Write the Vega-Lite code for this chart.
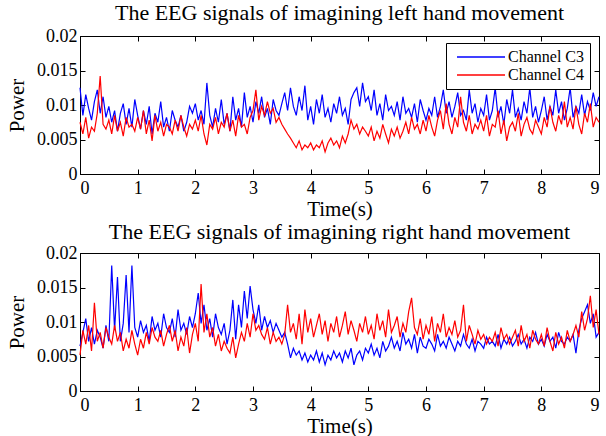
{
"$schema": "https://vega.github.io/schema/vega-lite/v6.json",
"background": "white",
"padding": {"left": 6, "top": 1, "right": 5, "bottom": 0},
"config": {
  "view": {"stroke": "black", "strokeWidth": 1},
  "style": {"guide-label": {"font": "Liberation Serif", "fill": "black"}, "guide-title": {"font": "Times New Roman", "fill": "black"}},
  "axis": {"domainColor": "black", "tickColor": "black", "labelColor": "black", "titleColor": "black", "grid": false, "labelFont": "Liberation Serif", "titleFont": "Times New Roman", "labelFontSize": 18, "titleFontSize": 21, "titleFontWeight": "normal", "tickSize": -5},
  "title": {"font": "Times New Roman", "fontSize": 22, "fontWeight": "normal", "color": "black"},
  "legend": {"strokeColor": "black", "fillColor": "white", "padding": 6, "labelFont": "Liberation Serif", "labelFontSize": 16, "labelColor": "black", "symbolType": "M-0.5,0H7.5", "symbolSize": 144, "symbolStrokeWidth": 1.5, "labelOffset": 40, "rowPadding": 2, "cornerRadius": 0},
  "concat": {"spacing": 0}
},
"datasets": {
"left": [
{"t":0,"C3":0.0125,"C4":0.0075},{"t":0.05,"C3":0.0085,"C4":0.0058},{"t":0.1,"C3":0.0115,"C4":0.0082},{"t":0.15,"C3":0.0095,"C4":0.0052},{"t":0.2,"C3":0.0078,"C4":0.0068},{"t":0.25,"C3":0.0105,"C4":0.0062},{"t":0.3,"C3":0.0122,"C4":0.0088},{"t":0.35,"C3":0.0088,"C4":0.0142},{"t":0.4,"C3":0.0112,"C4":0.0072},{"t":0.45,"C3":0.0082,"C4":0.0065},
{"t":0.5,"C3":0.0098,"C4":0.0078},{"t":0.55,"C3":0.0075,"C4":0.0058},{"t":0.6,"C3":0.0092,"C4":0.0085},{"t":0.65,"C3":0.0062,"C4":0.0062},{"t":0.7,"C3":0.0088,"C4":0.0075},{"t":0.75,"C3":0.0102,"C4":0.0055},{"t":0.8,"C3":0.0072,"C4":0.0082},{"t":0.85,"C3":0.0095,"C4":0.0068},{"t":0.9,"C3":0.0068,"C4":0.0072},{"t":0.95,"C3":0.0108,"C4":0.0062},
{"t":1,"C3":0.0085,"C4":0.0082},{"t":1.05,"C3":0.0065,"C4":0.0065},{"t":1.1,"C3":0.0092,"C4":0.0092},{"t":1.15,"C3":0.0072,"C4":0.0058},{"t":1.2,"C3":0.0098,"C4":0.0078},{"t":1.25,"C3":0.0058,"C4":0.0048},{"t":1.3,"C3":0.0088,"C4":0.0085},{"t":1.35,"C3":0.0075,"C4":0.0062},{"t":1.4,"C3":0.0105,"C4":0.0075},{"t":1.45,"C3":0.0068,"C4":0.0055},
{"t":1.5,"C3":0.0082,"C4":0.0072},{"t":1.55,"C3":0.0062,"C4":0.0068},{"t":1.6,"C3":0.0092,"C4":0.0058},{"t":1.65,"C3":0.0078,"C4":0.0078},{"t":1.7,"C3":0.0068,"C4":0.0062},{"t":1.75,"C3":0.0085,"C4":0.0085},{"t":1.8,"C3":0.0062,"C4":0.0068},{"t":1.85,"C3":0.0075,"C4":0.0055},{"t":1.9,"C3":0.0098,"C4":0.0072},{"t":1.95,"C3":0.0088,"C4":0.0065},
{"t":2,"C3":0.0102,"C4":0.0078},{"t":2.05,"C3":0.0078,"C4":0.0062},{"t":2.1,"C3":0.0092,"C4":0.0085},{"t":2.15,"C3":0.0072,"C4":0.0058},{"t":2.2,"C3":0.0132,"C4":0.0042},{"t":2.25,"C3":0.0085,"C4":0.0072},{"t":2.3,"C3":0.0068,"C4":0.0065},{"t":2.35,"C3":0.0095,"C4":0.0082},{"t":2.4,"C3":0.0075,"C4":0.0058},{"t":2.45,"C3":0.0108,"C4":0.0075},
{"t":2.5,"C3":0.0072,"C4":0.0068},{"t":2.55,"C3":0.0088,"C4":0.0088},{"t":2.6,"C3":0.0062,"C4":0.0062},{"t":2.65,"C3":0.0112,"C4":0.0078},{"t":2.7,"C3":0.0078,"C4":0.0055},{"t":2.75,"C3":0.0095,"C4":0.0085},{"t":2.8,"C3":0.0068,"C4":0.0068},{"t":2.85,"C3":0.0118,"C4":0.0072},{"t":2.9,"C3":0.0082,"C4":0.0058},{"t":2.95,"C3":0.0098,"C4":0.0082},
{"t":3,"C3":0.0075,"C4":0.0092},{"t":3.05,"C3":0.0105,"C4":0.0122},{"t":3.1,"C3":0.0088,"C4":0.0078},{"t":3.15,"C3":0.0112,"C4":0.0098},{"t":3.2,"C3":0.0082,"C4":0.0085},{"t":3.25,"C3":0.0095,"C4":0.0105},{"t":3.3,"C3":0.0072,"C4":0.0088},{"t":3.35,"C3":0.0108,"C4":0.0095},{"t":3.4,"C3":0.0092,"C4":0.0075},{"t":3.45,"C3":0.0085,"C4":0.0082},
{"t":3.5,"C3":0.0102,"C4":0.0072},{"t":3.55,"C3":0.0118,"C4":0.0065},{"t":3.6,"C3":0.0092,"C4":0.0058},{"t":3.65,"C3":0.0125,"C4":0.0052},{"t":3.7,"C3":0.0098,"C4":0.0045},{"t":3.75,"C3":0.0085,"C4":0.0038},{"t":3.8,"C3":0.0112,"C4":0.0048},{"t":3.85,"C3":0.0092,"C4":0.0035},{"t":3.9,"C3":0.0128,"C4":0.0042},{"t":3.95,"C3":0.0078,"C4":0.0038},
{"t":4,"C3":0.0098,"C4":0.0045},{"t":4.05,"C3":0.0072,"C4":0.0035},{"t":4.1,"C3":0.0108,"C4":0.0042},{"t":4.15,"C3":0.0088,"C4":0.0038},{"t":4.2,"C3":0.0115,"C4":0.0048},{"t":4.25,"C3":0.0082,"C4":0.0032},{"t":4.3,"C3":0.0095,"C4":0.0045},{"t":4.35,"C3":0.0075,"C4":0.0052},{"t":4.4,"C3":0.0102,"C4":0.0042},{"t":4.45,"C3":0.0088,"C4":0.0048},
{"t":4.5,"C3":0.0112,"C4":0.0038},{"t":4.55,"C3":0.0085,"C4":0.0055},{"t":4.6,"C3":0.0095,"C4":0.0045},{"t":4.65,"C3":0.0072,"C4":0.0058},{"t":4.7,"C3":0.0108,"C4":0.0078},{"t":4.75,"C3":0.0118,"C4":0.0065},{"t":4.8,"C3":0.0125,"C4":0.0072},{"t":4.85,"C3":0.0098,"C4":0.0058},{"t":4.9,"C3":0.0132,"C4":0.0068},{"t":4.95,"C3":0.0105,"C4":0.0062},
{"t":5,"C3":0.0112,"C4":0.0055},{"t":5.05,"C3":0.0092,"C4":0.0068},{"t":5.1,"C3":0.0122,"C4":0.0048},{"t":5.15,"C3":0.0085,"C4":0.0062},{"t":5.2,"C3":0.0102,"C4":0.0052},{"t":5.25,"C3":0.0078,"C4":0.0072},{"t":5.3,"C3":0.0115,"C4":0.0058},{"t":5.35,"C3":0.0092,"C4":0.0045},{"t":5.4,"C3":0.0098,"C4":0.0065},{"t":5.45,"C3":0.0085,"C4":0.0055},
{"t":5.5,"C3":0.0105,"C4":0.0068},{"t":5.55,"C3":0.0078,"C4":0.0052},{"t":5.6,"C3":0.0112,"C4":0.0062},{"t":5.65,"C3":0.0088,"C4":0.0075},{"t":5.7,"C3":0.0095,"C4":0.0058},{"t":5.75,"C3":0.0082,"C4":0.0082},{"t":5.8,"C3":0.0102,"C4":0.0065},{"t":5.85,"C3":0.0075,"C4":0.0072},{"t":5.9,"C3":0.0108,"C4":0.0058},{"t":5.95,"C3":0.0092,"C4":0.0078},
{"t":6,"C3":0.0078,"C4":0.0062},{"t":6.05,"C3":0.0095,"C4":0.0085},{"t":6.1,"C3":0.0085,"C4":0.0068},{"t":6.15,"C3":0.0112,"C4":0.0055},{"t":6.2,"C3":0.0082,"C4":0.0078},{"t":6.25,"C3":0.0098,"C4":0.0092},{"t":6.3,"C3":0.0122,"C4":0.0065},{"t":6.35,"C3":0.0088,"C4":0.0102},{"t":6.4,"C3":0.0105,"C4":0.0072},{"t":6.45,"C3":0.0082,"C4":0.0058},
{"t":6.5,"C3":0.0098,"C4":0.0082},{"t":6.55,"C3":0.0118,"C4":0.0068},{"t":6.6,"C3":0.0085,"C4":0.0112},{"t":6.65,"C3":0.0092,"C4":0.0075},{"t":6.7,"C3":0.0078,"C4":0.0062},{"t":6.75,"C3":0.0122,"C4":0.0085},{"t":6.8,"C3":0.0088,"C4":0.0058},{"t":6.85,"C3":0.0102,"C4":0.0072},{"t":6.9,"C3":0.0075,"C4":0.0065},{"t":6.95,"C3":0.0095,"C4":0.0078},
{"t":7,"C3":0.0085,"C4":0.0062},{"t":7.05,"C3":0.0115,"C4":0.0085},{"t":7.1,"C3":0.0078,"C4":0.0055},{"t":7.15,"C3":0.0092,"C4":0.0072},{"t":7.2,"C3":0.0125,"C4":0.0068},{"t":7.25,"C3":0.0082,"C4":0.0092},{"t":7.3,"C3":0.0098,"C4":0.0058},{"t":7.35,"C3":0.0072,"C4":0.0078},{"t":7.4,"C3":0.0108,"C4":0.0048},{"t":7.45,"C3":0.0088,"C4":0.0068},
{"t":7.5,"C3":0.0122,"C4":0.0075},{"t":7.55,"C3":0.0082,"C4":0.0062},{"t":7.6,"C3":0.0095,"C4":0.0088},{"t":7.65,"C3":0.0078,"C4":0.0055},{"t":7.7,"C3":0.0105,"C4":0.0072},{"t":7.75,"C3":0.0088,"C4":0.0082},{"t":7.8,"C3":0.0125,"C4":0.0065},{"t":7.85,"C3":0.0082,"C4":0.0058},{"t":7.9,"C3":0.0098,"C4":0.0078},{"t":7.95,"C3":0.0075,"C4":0.0068},
{"t":8,"C3":0.0092,"C4":0.0058},{"t":8.05,"C3":0.0112,"C4":0.0082},{"t":8.1,"C3":0.0078,"C4":0.0068},{"t":8.15,"C3":0.0098,"C4":0.0098},{"t":8.2,"C3":0.0085,"C4":0.0075},{"t":8.25,"C3":0.0122,"C4":0.0062},{"t":8.3,"C3":0.0088,"C4":0.0085},{"t":8.35,"C3":0.0105,"C4":0.0072},{"t":8.4,"C3":0.0078,"C4":0.0105},{"t":8.45,"C3":0.0095,"C4":0.0068},
{"t":8.5,"C3":0.0125,"C4":0.0082},{"t":8.55,"C3":0.0082,"C4":0.0065},{"t":8.6,"C3":0.0098,"C4":0.0098},{"t":8.65,"C3":0.0088,"C4":0.0072},{"t":8.7,"C3":0.0115,"C4":0.0058},{"t":8.75,"C3":0.0085,"C4":0.0088},{"t":8.8,"C3":0.0105,"C4":0.0075},{"t":8.85,"C3":0.0092,"C4":0.0102},{"t":8.9,"C3":0.0118,"C4":0.0068},{"t":8.95,"C3":0.0098,"C4":0.0082},
{"t":9,"C3":0.0112,"C4":0.0075}
],
"right": [
{"t":0,"C3":0.0065,"C4":0.0052},{"t":0.05,"C3":0.0085,"C4":0.0088},{"t":0.1,"C3":0.0105,"C4":0.0068},{"t":0.15,"C3":0.0072,"C4":0.0095},{"t":0.2,"C3":0.0092,"C4":0.0058},{"t":0.25,"C3":0.0068,"C4":0.0128},{"t":0.3,"C3":0.0088,"C4":0.0072},{"t":0.35,"C3":0.0078,"C4":0.0085},{"t":0.4,"C3":0.0062,"C4":0.0062},{"t":0.45,"C3":0.0095,"C4":0.0092},
{"t":0.5,"C3":0.0072,"C4":0.0078},{"t":0.55,"C3":0.0182,"C4":0.0068},{"t":0.6,"C3":0.0088,"C4":0.0095},{"t":0.65,"C3":0.0165,"C4":0.0072},{"t":0.7,"C3":0.0072,"C4":0.0085},{"t":0.75,"C3":0.0098,"C4":0.0058},{"t":0.8,"C3":0.0168,"C4":0.0075},{"t":0.85,"C3":0.0085,"C4":0.0062},{"t":0.9,"C3":0.0182,"C4":0.0088},{"t":0.95,"C3":0.0092,"C4":0.0068},
{"t":1,"C3":0.0078,"C4":0.0052},{"t":1.05,"C3":0.0102,"C4":0.0075},{"t":1.1,"C3":0.0085,"C4":0.0062},{"t":1.15,"C3":0.0095,"C4":0.0085},{"t":1.2,"C3":0.0072,"C4":0.0068},{"t":1.25,"C3":0.0108,"C4":0.0092},{"t":1.3,"C3":0.0088,"C4":0.0078},{"t":1.35,"C3":0.0098,"C4":0.0072},{"t":1.4,"C3":0.0078,"C4":0.0088},{"t":1.45,"C3":0.0112,"C4":0.0065},
{"t":1.5,"C3":0.0092,"C4":0.0082},{"t":1.55,"C3":0.0085,"C4":0.0095},{"t":1.6,"C3":0.0105,"C4":0.0072},{"t":1.65,"C3":0.0078,"C4":0.0088},{"t":1.7,"C3":0.0118,"C4":0.0058},{"t":1.75,"C3":0.0088,"C4":0.0078},{"t":1.8,"C3":0.0098,"C4":0.0065},{"t":1.85,"C3":0.0082,"C4":0.0092},{"t":1.9,"C3":0.0108,"C4":0.0055},{"t":1.95,"C3":0.0092,"C4":0.0082},
{"t":2,"C3":0.0112,"C4":0.0098},{"t":2.05,"C3":0.0142,"C4":0.0072},{"t":2.1,"C3":0.0098,"C4":0.0155},{"t":2.15,"C3":0.0125,"C4":0.0085},{"t":2.2,"C3":0.0088,"C4":0.0112},{"t":2.25,"C3":0.0105,"C4":0.0078},{"t":2.3,"C3":0.0078,"C4":0.0092},{"t":2.35,"C3":0.0112,"C4":0.0065},{"t":2.4,"C3":0.0092,"C4":0.0082},{"t":2.45,"C3":0.0082,"C4":0.0058},
{"t":2.5,"C3":0.0098,"C4":0.0072},{"t":2.55,"C3":0.0068,"C4":0.0062},{"t":2.6,"C3":0.0088,"C4":0.0055},{"t":2.65,"C3":0.0132,"C4":0.0078},{"t":2.7,"C3":0.0075,"C4":0.0048},{"t":2.75,"C3":0.0125,"C4":0.0068},{"t":2.8,"C3":0.0092,"C4":0.0085},{"t":2.85,"C3":0.0145,"C4":0.0072},{"t":2.9,"C3":0.0105,"C4":0.0098},{"t":2.95,"C3":0.0152,"C4":0.0078},
{"t":3,"C3":0.0118,"C4":0.0112},{"t":3.05,"C3":0.0098,"C4":0.0088},{"t":3.1,"C3":0.0125,"C4":0.0095},{"t":3.15,"C3":0.0088,"C4":0.0082},{"t":3.2,"C3":0.0108,"C4":0.0075},{"t":3.25,"C3":0.0092,"C4":0.0092},{"t":3.3,"C3":0.0102,"C4":0.0068},{"t":3.35,"C3":0.0085,"C4":0.0085},{"t":3.4,"C3":0.0098,"C4":0.0072},{"t":3.45,"C3":0.0088,"C4":0.0078},
{"t":3.5,"C3":0.0078,"C4":0.0068},{"t":3.55,"C3":0.0085,"C4":0.0082},{"t":3.6,"C3":0.0068,"C4":0.0125},{"t":3.65,"C3":0.0048,"C4":0.0085},{"t":3.7,"C3":0.0062,"C4":0.0098},{"t":3.75,"C3":0.0052,"C4":0.0075},{"t":3.8,"C3":0.0058,"C4":0.0112},{"t":3.85,"C3":0.0045,"C4":0.0068},{"t":3.9,"C3":0.0055,"C4":0.0118},{"t":3.95,"C3":0.0042,"C4":0.0085},
{"t":4,"C3":0.0052,"C4":0.0105},{"t":4.05,"C3":0.0045,"C4":0.0078},{"t":4.1,"C3":0.0058,"C4":0.0095},{"t":4.15,"C3":0.0042,"C4":0.0112},{"t":4.2,"C3":0.0055,"C4":0.0082},{"t":4.25,"C3":0.0038,"C4":0.0102},{"t":4.3,"C3":0.0052,"C4":0.0072},{"t":4.35,"C3":0.0045,"C4":0.0098},{"t":4.4,"C3":0.0058,"C4":0.0085},{"t":4.45,"C3":0.0048,"C4":0.0108},
{"t":4.5,"C3":0.0055,"C4":0.0078},{"t":4.55,"C3":0.0042,"C4":0.0095},{"t":4.6,"C3":0.0058,"C4":0.0115},{"t":4.65,"C3":0.0048,"C4":0.0082},{"t":4.7,"C3":0.0062,"C4":0.0102},{"t":4.75,"C3":0.0038,"C4":0.0088},{"t":4.8,"C3":0.0052,"C4":0.0072},{"t":4.85,"C3":0.0058,"C4":0.0098},{"t":4.9,"C3":0.0045,"C4":0.0085},{"t":4.95,"C3":0.0062,"C4":0.0108},
{"t":5,"C3":0.0055,"C4":0.0082},{"t":5.05,"C3":0.0068,"C4":0.0095},{"t":5.1,"C3":0.0052,"C4":0.0075},{"t":5.15,"C3":0.0062,"C4":0.0112},{"t":5.2,"C3":0.0048,"C4":0.0088},{"t":5.25,"C3":0.0072,"C4":0.0102},{"t":5.3,"C3":0.0058,"C4":0.0078},{"t":5.35,"C3":0.0065,"C4":0.0118},{"t":5.4,"C3":0.0078,"C4":0.0085},{"t":5.45,"C3":0.0062,"C4":0.0095},
{"t":5.5,"C3":0.0072,"C4":0.0108},{"t":5.55,"C3":0.0058,"C4":0.0078},{"t":5.6,"C3":0.0085,"C4":0.0098},{"t":5.65,"C3":0.0068,"C4":0.0085},{"t":5.7,"C3":0.0075,"C4":0.0115},{"t":5.75,"C3":0.0062,"C4":0.0135},{"t":5.8,"C3":0.0082,"C4":0.0092},{"t":5.85,"C3":0.0055,"C4":0.0082},{"t":5.9,"C3":0.0078,"C4":0.0105},{"t":5.95,"C3":0.0065,"C4":0.0075},
{"t":6,"C3":0.0062,"C4":0.0095},{"t":6.05,"C3":0.0075,"C4":0.0082},{"t":6.1,"C3":0.0068,"C4":0.0108},{"t":6.15,"C3":0.0058,"C4":0.0072},{"t":6.2,"C3":0.0082,"C4":0.0098},{"t":6.25,"C3":0.0065,"C4":0.0085},{"t":6.3,"C3":0.0072,"C4":0.0112},{"t":6.35,"C3":0.0062,"C4":0.0078},{"t":6.4,"C3":0.0078,"C4":0.0092},{"t":6.45,"C3":0.0068,"C4":0.0082},
{"t":6.5,"C3":0.0058,"C4":0.0102},{"t":6.55,"C3":0.0072,"C4":0.0078},{"t":6.6,"C3":0.0065,"C4":0.0088},{"t":6.65,"C3":0.0082,"C4":0.0125},{"t":6.7,"C3":0.0068,"C4":0.0072},{"t":6.75,"C3":0.0062,"C4":0.0095},{"t":6.8,"C3":0.0075,"C4":0.0082},{"t":6.85,"C3":0.0058,"C4":0.0068},{"t":6.9,"C3":0.0072,"C4":0.0088},{"t":6.95,"C3":0.0068,"C4":0.0075},
{"t":7,"C3":0.0062,"C4":0.0082},{"t":7.05,"C3":0.0078,"C4":0.0068},{"t":7.1,"C3":0.0068,"C4":0.0078},{"t":7.15,"C3":0.0072,"C4":0.0072},{"t":7.2,"C3":0.0065,"C4":0.0085},{"t":7.25,"C3":0.0082,"C4":0.0065},{"t":7.3,"C3":0.0062,"C4":0.0092},{"t":7.35,"C3":0.0075,"C4":0.0075},{"t":7.4,"C3":0.0068,"C4":0.0082},{"t":7.45,"C3":0.0078,"C4":0.0068},
{"t":7.5,"C3":0.0065,"C4":0.0078},{"t":7.55,"C3":0.0072,"C4":0.0088},{"t":7.6,"C3":0.0082,"C4":0.0065},{"t":7.65,"C3":0.0068,"C4":0.0095},{"t":7.7,"C3":0.0075,"C4":0.0072},{"t":7.75,"C3":0.0062,"C4":0.0082},{"t":7.8,"C3":0.0078,"C4":0.0062},{"t":7.85,"C3":0.0072,"C4":0.0088},{"t":7.9,"C3":0.0085,"C4":0.0075},{"t":7.95,"C3":0.0068,"C4":0.0068},
{"t":8,"C3":0.0075,"C4":0.0082},{"t":8.05,"C3":0.0065,"C4":0.0065},{"t":8.1,"C3":0.0082,"C4":0.0092},{"t":8.15,"C3":0.0072,"C4":0.0072},{"t":8.2,"C3":0.0078,"C4":0.0058},{"t":8.25,"C3":0.0062,"C4":0.0085},{"t":8.3,"C3":0.0085,"C4":0.0068},{"t":8.35,"C3":0.0072,"C4":0.0078},{"t":8.4,"C3":0.0068,"C4":0.0062},{"t":8.45,"C3":0.0078,"C4":0.0088},
{"t":8.5,"C3":0.0072,"C4":0.0072},{"t":8.55,"C3":0.0082,"C4":0.0082},{"t":8.6,"C3":0.0055,"C4":0.0095},{"t":8.65,"C3":0.0088,"C4":0.0078},{"t":8.7,"C3":0.0105,"C4":0.0115},{"t":8.75,"C3":0.0115,"C4":0.0088},{"t":8.8,"C3":0.0125,"C4":0.0105},{"t":8.85,"C3":0.0098,"C4":0.0138},{"t":8.9,"C3":0.0112,"C4":0.0092},{"t":8.95,"C3":0.0078,"C4":0.0118},
{"t":9,"C3":0.0085,"C4":0.0082}
]
},
"vconcat": [
{
  "title": {"text": "The EEG signals of imagining left hand movement", "offset": 2, "font": "Times New Roman"},
  "width": 519, "height": 138,
  "data": {"name": "left"},
  "transform": [{"fold": ["C3", "C4"], "as": ["channel", "power"]}],
  "layer": [
    {"mark": {"type": "line", "strokeWidth": 1.2, "opacity": 0},
     "encoding": {
       "x": {"field": "t", "type": "quantitative", "scale": {"domain": [0, 9], "nice": false, "zero": false}, "axis": {"orient": "top", "labels": false, "title": null, "values": [0,1,2,3,4,5,6,7,8,9], "domain": false}},
       "y": {"field": "power", "type": "quantitative", "scale": {"domain": [0, 0.02], "nice": false}, "axis": {"orient": "right", "labels": false, "title": null, "values": [0,0.005,0.01,0.015,0.02], "domain": false}},
       "color": {"field": "channel", "type": "nominal", "scale": {"domain": ["C3", "C4"], "range": ["#0000ff", "#ff0000"]}, "legend": {"title": null, "orient": "none", "legendX": 366, "legendY": 7, "labelFont": "Liberation Serif", "labelExpr": "'Channel ' + datum.label"}}
     }},
    {"mark": {"type": "line", "strokeWidth": 1.2},
     "encoding": {
       "x": {"field": "t", "type": "quantitative", "scale": {"domain": [0, 9], "nice": false, "zero": false}, "axis": {"orient": "bottom", "title": "Time(s)", "values": [0,1,2,3,4,5,6,7,8,9], "format": "d", "labelFont": "Liberation Serif", "labelPadding": 10, "titlePadding": 1}},
       "y": {"field": "power", "type": "quantitative", "scale": {"domain": [0, 0.02], "nice": false}, "axis": {"orient": "left", "title": "Power", "values": [0,0.005,0.01,0.015,0.02], "format": "~g", "labelFont": "Liberation Serif", "labelPadding": 8, "titlePadding": 9}},
       "color": {"field": "channel", "type": "nominal", "scale": {"domain": ["C3", "C4"], "range": ["#0000ff", "#ff0000"]}, "legend": {"title": null, "orient": "none", "legendX": 366, "legendY": 7, "labelFont": "Liberation Serif", "labelExpr": "'Channel ' + datum.label"}}
     }}
  ],
  "resolve": {"axis": {"x": "independent", "y": "independent"}}
},
{
  "title": {"text": "The EEG signals of imagining right hand movement", "offset": 0, "font": "Times New Roman"},
  "width": 519, "height": 138,
  "data": {"name": "right"},
  "transform": [{"fold": ["C3", "C4"], "as": ["channel", "power"]}],
  "layer": [
    {"mark": {"type": "line", "strokeWidth": 1.2, "opacity": 0},
     "encoding": {
       "x": {"field": "t", "type": "quantitative", "scale": {"domain": [0, 9], "nice": false, "zero": false}, "axis": {"orient": "top", "labels": false, "title": null, "values": [0,1,2,3,4,5,6,7,8,9], "domain": false}},
       "y": {"field": "power", "type": "quantitative", "scale": {"domain": [0, 0.02], "nice": false}, "axis": {"orient": "right", "labels": false, "title": null, "values": [0,0.005,0.01,0.015,0.02], "domain": false}},
       "color": {"field": "channel", "type": "nominal", "scale": {"domain": ["C3", "C4"], "range": ["#0000ff", "#ff0000"]}, "legend": {"title": null, "orient": "none", "legendX": 366, "legendY": 9, "labelFont": "Liberation Serif", "labelExpr": "'Channel ' + datum.label"}}
     }},
    {"mark": {"type": "line", "strokeWidth": 1.2},
     "encoding": {
       "x": {"field": "t", "type": "quantitative", "scale": {"domain": [0, 9], "nice": false, "zero": false}, "axis": {"orient": "bottom", "title": "Time(s)", "values": [0,1,2,3,4,5,6,7,8,9], "format": "d", "labelFont": "Liberation Serif", "labelPadding": 10, "titlePadding": 1}},
       "y": {"field": "power", "type": "quantitative", "scale": {"domain": [0, 0.02], "nice": false}, "axis": {"orient": "left", "title": "Power", "values": [0,0.005,0.01,0.015,0.02], "format": "~g", "labelFont": "Liberation Serif", "labelPadding": 8, "titlePadding": 9}},
       "color": {"field": "channel", "type": "nominal", "scale": {"domain": ["C3", "C4"], "range": ["#0000ff", "#ff0000"]}, "legend": {"title": null, "orient": "none", "legendX": 366, "legendY": 9, "labelFont": "Liberation Serif", "labelExpr": "'Channel ' + datum.label"}}
     }}
  ],
  "resolve": {"axis": {"x": "independent", "y": "independent"}}
}
]
}
